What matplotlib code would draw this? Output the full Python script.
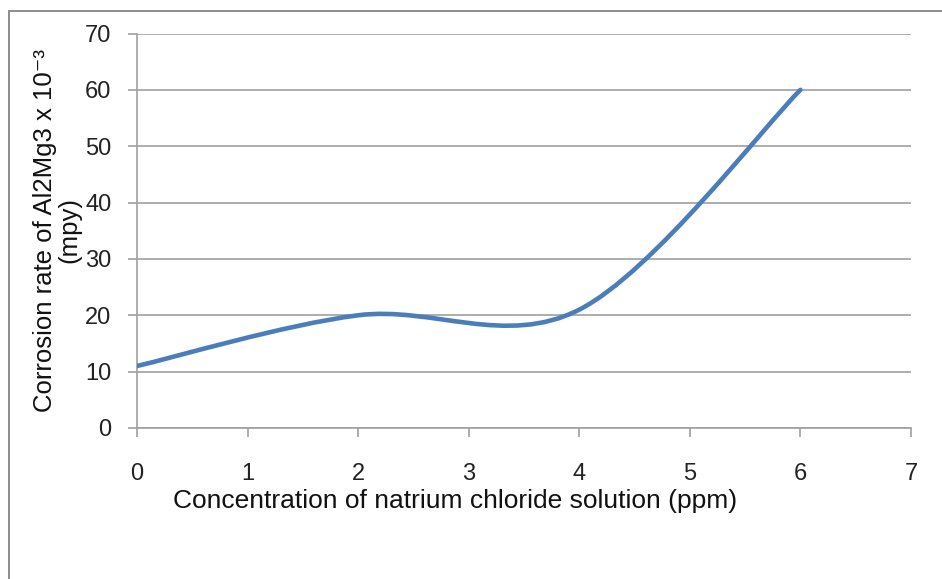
import matplotlib
matplotlib.use("Agg")
import matplotlib.pyplot as plt
from matplotlib.path import Path
from matplotlib.patches import PathPatch, Rectangle

# data (Excel smoothed line through these points)
concentration = [0, 2, 4, 6]
corrosion_rate = [11, 20, 21, 60]
x_ticks = [0, 1, 2, 3, 4, 5, 6, 7]
y_ticks = [0, 10, 20, 30, 40, 50, 60, 70]

W, H = 942, 579
plt.rcParams["font.family"] = ["Liberation Sans", "DejaVu Sans"]

fig = plt.figure(figsize=(W / 100, H / 100), dpi=100)
fig.patch.set_facecolor("white")

# chart frame (cut off at right and bottom)
fig.add_artist(Rectangle((9 / W, -0.1), 1.2, (H - 11) / H + 0.1,
                         transform=fig.transFigure, fill=False,
                         edgecolor="#8c8c8c", linewidth=1.4))

ax = fig.add_axes([137 / W, (H - 428) / H, (911 - 137) / W, (428 - 33.5) / H])
ax.set_xlim(0, 7)
ax.set_ylim(0, 70)
ax.set_xticks(x_ticks)
ax.set_yticks(y_ticks)

grid_c = "#a0a0a0"
ax.yaxis.grid(True, color=grid_c, linewidth=1.2)
ax.set_axisbelow(True)
for side in ("top", "right"):
    ax.spines[side].set_visible(False)
for side in ("left", "bottom"):
    ax.spines[side].set_color(grid_c)
    ax.spines[side].set_linewidth(1.2)
ax.tick_params(axis="both", direction="out", color=grid_c, width=1.2,
               length=6.5, labelsize=17, labelcolor="#222222")
ax.tick_params(axis="y", pad=12)
ax.tick_params(axis="x", pad=19)

# smoothed line: cubic Bezier segments (Catmull-Rom style, like Excel)
pts = list(zip(concentration, corrosion_rate))
verts = [pts[0]]
codes = [Path.MOVETO]
n = len(pts)
for i in range(n - 1):
    p_prev = pts[i - 1] if i > 0 else pts[i]
    p0, p1 = pts[i], pts[i + 1]
    p_next = pts[i + 2] if i + 2 < n else pts[i + 1]
    c1 = (p0[0] + (p1[0] - p_prev[0]) / 6, p0[1] + (p1[1] - p_prev[1]) / 6)
    c2 = (p1[0] - (p_next[0] - p0[0]) / 6, p1[1] - (p_next[1] - p0[1]) / 6)
    verts += [c1, c2, p1]
    codes += [Path.CURVE4] * 3
ax.add_patch(PathPatch(Path(verts, codes), facecolor="none",
                       edgecolor="#4a7ebb", linewidth=3.3,
                       capstyle="round", joinstyle="round", zorder=3))

fig.text(455 / W, 1 - 501 / H, "Concentration of natrium chloride solution (ppm)",
         ha="center", va="center", fontsize=19, color="#111111")
fig.text(57 / W, 1 - 230 / H, "Corrosion rate of Al2Mg3 x 10\u207b\u00b3\n(mpy)",
         ha="center", va="center", rotation=90, fontsize=18.5,
         multialignment="center", linespacing=1.0, color="#111111")

fig.savefig("out.png", dpi=100)
